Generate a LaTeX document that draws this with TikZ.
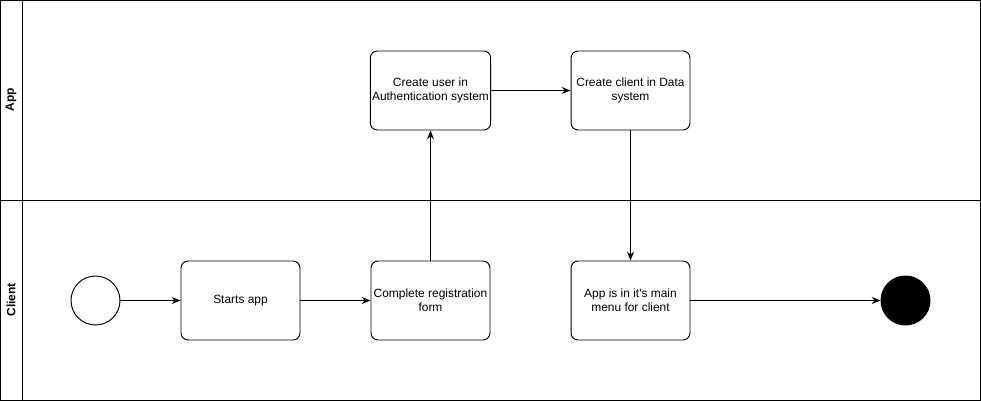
\documentclass[tikz,border=0pt]{standalone}
\usepackage{fontspec}
\setmainfont{Liberation Sans}
\usetikzlibrary{arrows.meta}

\tikzset{
  task/.style={draw,rounded corners=4pt,minimum width=2.38cm,minimum height=1.58cm,
    align=center,font=\fontsize{6.8}{8}\selectfont,inner sep=1pt},
  lanename/.style={rotate=90,font=\bfseries\fontsize{6.8}{8}\selectfont},
  flow/.style={-{Stealth[length=5pt,width=4pt]}}
}

\begin{document}
\begin{tikzpicture}[x=0.02cm,y=-0.02cm,line width=0.55pt]

\useasboundingbox (0,0) rectangle (981,401);

% swimlanes
\draw (0.5,0.5) rectangle (980.5,400.5);
\draw (0.5,200.5) -- (980.5,200.5);
\draw (22.5,0.5) -- (22.5,400.5);

\node[lanename] (applane) at (11,100) {App};
\node[lanename] (clientlane) at (11,300) {Client};

% client lane
\node[draw,circle,minimum size=0.98cm,inner sep=0pt] (start) at (95.5,300.5) {};
\node[task] (startsapp) at (240.5,300.5) {Starts app};
\node[task] (register) at (430.5,300.5) {Complete registration\\form};
\node[task] (mainmenu) at (630.5,300.5) {App is in it\textquotesingle s main\\menu for client};
\node[draw,circle,fill=black,minimum size=0.98cm,inner sep=0pt] (finish) at (905.5,300.5) {};

% app lane
\node[task] (createuser) at (430.5,90.5) {Create user in\\Authentication system};
\node[task] (createclient) at (630.5,90.5) {Create client in Data\\system};

\draw[flow] (start) -- (startsapp);
\draw[flow] (startsapp) -- (register);
\draw[flow] (register) -- (createuser);
\draw[flow] (createuser) -- (createclient);
\draw[flow] (createclient) -- (mainmenu);
\draw[flow] (mainmenu) -- (finish);

\end{tikzpicture}
\end{document}
